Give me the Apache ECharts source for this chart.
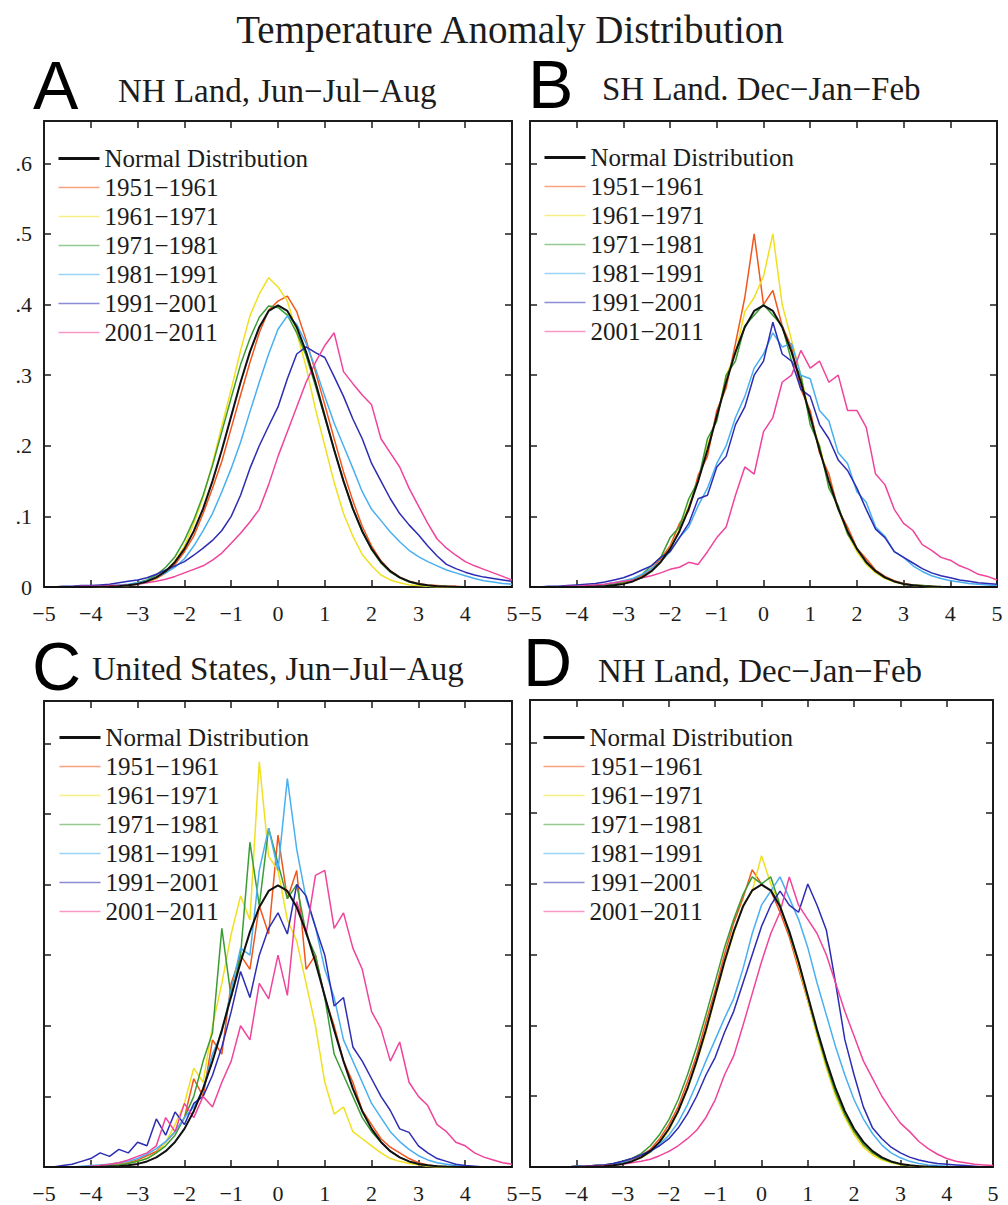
<!DOCTYPE html>
<html><head><meta charset="utf-8">
<script src="https://cdn.jsdelivr.net/npm/echarts@6/dist/echarts.min.js"></script>
<style>html,body{margin:0;padding:0;background:#fff}#c{width:1008px;height:1205px}</style>
</head><body><div id="c"></div>
<script>
// x positions (temperature anomaly, in standard deviations)
const xs = [-5,-4.8,-4.6,-4.4,-4.2,-4,-3.8,-3.6,-3.4,-3.2,-3,-2.8,-2.6,-2.4,-2.2,-2,-1.8,-1.6,-1.4,-1.2,-1,-0.8,-0.6,-0.4,-0.2,0,0.2,0.4,0.6,0.8,1,1.2,1.4,1.6,1.8,2,2.2,2.4,2.6,2.8,3,3.2,3.4,3.6,3.8,4,4.2,4.4,4.6,4.8,5];

const normalCurve = [0,0,0,0,0.0001,0.0001,0.0003,0.0006,0.0012,0.0024,
 0.0044,0.0079,0.0136,0.0224,0.0355,0.054,0.079,0.111,0.150,0.194,
 0.242,0.290,0.333,0.368,0.391,0.399,0.391,0.368,0.333,0.290,
 0.242,0.194,0.150,0.111,0.079,0.054,0.0355,0.0224,0.0136,0.0079,
 0.0044,0.0024,0.0012,0.0006,0.0003,0.0001,0.0001,0,0,0,0];

// Panel A: NH Land, Jun-Jul-Aug
const A_1951 = [0,0,0,0,0,0.001,0.001,0.001,0.002,0.003,
 0.005,0.007,0.012,0.02,0.032,0.05,0.072,0.104,0.14,0.178,
 0.225,0.272,0.318,0.36,0.392,0.405,0.412,0.39,0.35,0.305,
 0.258,0.21,0.163,0.122,0.086,0.058,0.037,0.023,0.014,0.008,
 0.005,0.003,0.002,0.001,0.001,0,0,0,0,0,0];
const A_1961 = [0,0,0,0,0,0,0,0.001,0.001,0.002,
 0.004,0.007,0.013,0.022,0.037,0.058,0.09,0.127,0.175,0.228,
 0.28,0.335,0.384,0.415,0.438,0.425,0.405,0.36,0.312,0.252,
 0.2,0.148,0.104,0.072,0.046,0.03,0.017,0.01,0.006,0.003,
 0.002,0.001,0,0,0,0,0,0,0,0,0];
const A_1971 = [0,0,0,0,0,0.001,0.001,0.001,0.002,0.003,
 0.006,0.01,0.017,0.028,0.043,0.066,0.095,0.13,0.172,0.22,
 0.268,0.315,0.352,0.382,0.398,0.396,0.385,0.36,0.328,0.285,
 0.24,0.195,0.15,0.11,0.078,0.053,0.034,0.021,0.013,0.007,
 0.004,0.002,0.001,0.001,0,0,0,0,0,0,0];
const A_1981 = [0,0,0,0,0,0.001,0.001,0.002,0.003,0.004,
 0.006,0.009,0.014,0.02,0.028,0.04,0.058,0.08,0.104,0.135,
 0.168,0.205,0.248,0.29,0.33,0.365,0.384,0.372,0.345,0.31,
 0.27,0.232,0.2,0.168,0.135,0.11,0.094,0.078,0.064,0.052,
 0.043,0.036,0.03,0.024,0.02,0.016,0.012,0.009,0.007,0.005,0.004];
const A_1991 = [0,0,0.001,0.001,0.002,0.002,0.003,0.004,0.006,0.008,
 0.01,0.013,0.018,0.024,0.03,0.036,0.045,0.055,0.066,0.08,
 0.1,0.13,0.168,0.2,0.228,0.255,0.295,0.33,0.34,0.332,
 0.325,0.298,0.27,0.238,0.21,0.175,0.15,0.125,0.104,0.088,
 0.074,0.058,0.044,0.032,0.026,0.021,0.017,0.014,0.012,0.01,0.008];
const A_2001 = [0,0,0,0,0.001,0.001,0.001,0.002,0.002,0.003,
 0.004,0.006,0.008,0.011,0.015,0.02,0.025,0.03,0.038,0.048,
 0.062,0.076,0.092,0.11,0.145,0.185,0.22,0.255,0.29,0.318,
 0.342,0.36,0.305,0.288,0.272,0.258,0.21,0.19,0.17,0.14,
 0.115,0.09,0.068,0.055,0.045,0.036,0.03,0.025,0.02,0.015,0.01];

// Panel B: SH Land, Dec-Jan-Feb
const B_1951 = [0,0,0,0,0,0.001,0.001,0.002,0.003,0.004,
 0.006,0.01,0.016,0.026,0.04,0.058,0.09,0.108,0.158,0.185,
 0.25,0.282,0.345,0.41,0.5,0.4,0.42,0.37,0.34,0.28,
 0.25,0.19,0.16,0.11,0.085,0.055,0.04,0.024,0.015,0.009,
 0.005,0.003,0.002,0.001,0,0,0,0,0,0,0];
const B_1961 = [0,0,0,0,0,0,0.001,0.001,0.002,0.003,
 0.005,0.008,0.014,0.022,0.036,0.055,0.082,0.115,0.15,0.2,
 0.24,0.3,0.33,0.39,0.41,0.44,0.5,0.4,0.35,0.3,
 0.24,0.2,0.148,0.11,0.075,0.05,0.032,0.02,0.012,0.007,
 0.004,0.002,0.001,0,0,0,0,0,0,0,0];
const B_1971 = [0,0,0,0,0,0.001,0.001,0.002,0.003,0.004,
 0.007,0.011,0.018,0.03,0.042,0.07,0.085,0.125,0.15,0.21,
 0.235,0.3,0.32,0.37,0.385,0.4,0.385,0.37,0.32,0.3,
 0.23,0.2,0.14,0.115,0.075,0.055,0.034,0.022,0.013,0.008,
 0.004,0.003,0.002,0.001,0,0,0,0,0,0,0];
const B_1981 = [0,0,0,0,0.001,0.001,0.002,0.003,0.004,0.006,
 0.009,0.012,0.018,0.026,0.036,0.05,0.07,0.085,0.115,0.14,
 0.175,0.2,0.24,0.27,0.31,0.33,0.36,0.34,0.345,0.3,
 0.295,0.25,0.235,0.19,0.175,0.135,0.12,0.085,0.072,0.05,
 0.042,0.03,0.022,0.016,0.012,0.009,0.007,0.005,0.004,0.003,0.002];
const B_1991 = [0,0,0.001,0.001,0.002,0.003,0.004,0.005,0.007,0.01,
 0.013,0.018,0.024,0.03,0.042,0.05,0.07,0.09,0.125,0.13,
 0.17,0.185,0.23,0.255,0.3,0.32,0.375,0.33,0.32,0.28,
 0.27,0.23,0.21,0.18,0.165,0.14,0.11,0.082,0.07,0.05,
 0.042,0.034,0.026,0.02,0.016,0.013,0.01,0.008,0.006,0.005,0.004];
const B_2001 = [0,0,0,0,0.001,0.001,0.002,0.003,0.004,0.006,
 0.008,0.01,0.013,0.016,0.02,0.025,0.028,0.035,0.032,0.05,
 0.07,0.085,0.13,0.17,0.16,0.22,0.24,0.29,0.3,0.335,
 0.31,0.32,0.29,0.3,0.25,0.25,0.226,0.16,0.145,0.11,
 0.09,0.08,0.06,0.052,0.042,0.038,0.03,0.025,0.018,0.015,0.01];

// Panel C: United States, Jun-Jul-Aug
const C_1951 = [0,0,0,0,0,0,0.002,0.003,0.004,0.006,
 0.01,0.016,0.022,0.035,0.05,0.07,0.125,0.1,0.18,0.16,
 0.26,0.3,0.28,0.37,0.33,0.47,0.38,0.42,0.28,0.3,
 0.24,0.2,0.15,0.12,0.08,0.06,0.04,0.028,0.02,0.012,
 0.006,0.003,0.001,0,0,0,0,0,0,0,0];
const C_1961 = [0,0,0,0,0,0,0.001,0.002,0.003,0.005,
 0.008,0.012,0.02,0.035,0.06,0.09,0.14,0.12,0.2,0.26,
 0.33,0.384,0.35,0.574,0.44,0.42,0.35,0.32,0.26,0.2,
 0.12,0.075,0.085,0.05,0.04,0.03,0.02,0.012,0.008,0.005,
 0.003,0.001,0,0,0,0,0,0,0,0,0];
const C_1971 = [0,0,0,0,0,0.001,0.001,0.002,0.003,0.005,
 0.008,0.012,0.02,0.03,0.045,0.07,0.1,0.15,0.19,0.338,
 0.24,0.3,0.46,0.37,0.48,0.43,0.38,0.4,0.33,0.3,
 0.24,0.16,0.13,0.1,0.07,0.05,0.035,0.022,0.014,0.008,
 0.004,0.002,0.001,0,0,0,0,0,0,0,0];
const C_1981 = [0,0,0,0,0.001,0.002,0.003,0.004,0.006,0.008,
 0.012,0.018,0.026,0.036,0.05,0.07,0.085,0.11,0.16,0.19,
 0.25,0.31,0.3,0.42,0.48,0.42,0.55,0.45,0.38,0.34,
 0.28,0.24,0.18,0.15,0.12,0.09,0.07,0.05,0.036,0.025,
 0.016,0.01,0.006,0.004,0.002,0.001,0,0,0,0,0];
const C_1991 = [0,0,0.002,0.004,0.008,0.012,0.02,0.015,0.025,0.02,
 0.035,0.03,0.068,0.045,0.078,0.06,0.09,0.1,0.13,0.17,
 0.22,0.277,0.24,0.3,0.338,0.36,0.33,0.4,0.384,0.34,
 0.3,0.228,0.24,0.17,0.15,0.125,0.1,0.08,0.054,0.049,
 0.03,0.02,0.012,0.008,0.004,0.002,0.001,0,0,0,0];
const C_2001 = [0,0,0,0,0,0.001,0.002,0.004,0.006,0.01,
 0.015,0.02,0.03,0.07,0.05,0.09,0.07,0.1,0.085,0.12,
 0.15,0.2,0.18,0.26,0.238,0.3,0.243,0.376,0.33,0.413,
 0.42,0.338,0.36,0.31,0.28,0.22,0.196,0.15,0.177,0.12,
 0.1,0.087,0.06,0.05,0.035,0.03,0.02,0.014,0.01,0.006,0.004];

// Panel D: NH Land, Dec-Jan-Feb
const D_1951 = [0,0,0,0,0,0.001,0.001,0.002,0.003,0.004,
 0.007,0.01,0.016,0.025,0.04,0.06,0.085,0.12,0.158,0.205,
 0.25,0.3,0.345,0.38,0.42,0.4,0.39,0.36,0.325,0.28,
 0.235,0.188,0.145,0.105,0.075,0.05,0.032,0.02,0.012,0.007,
 0.004,0.002,0.001,0,0,0,0,0,0,0,0];
const D_1961 = [0,0,0,0,0,0,0.001,0.001,0.002,0.003,
 0.005,0.008,0.013,0.021,0.034,0.052,0.078,0.11,0.148,0.19,
 0.24,0.288,0.33,0.37,0.39,0.44,0.4,0.37,0.33,0.285,
 0.236,0.185,0.14,0.1,0.07,0.046,0.028,0.017,0.01,0.006,
 0.003,0.002,0.001,0,0,0,0,0,0,0,0];
const D_1971 = [0,0,0,0,0,0.001,0.001,0.002,0.003,0.005,
 0.008,0.012,0.019,0.03,0.046,0.067,0.095,0.13,0.17,0.215,
 0.262,0.31,0.35,0.385,0.41,0.4,0.41,0.37,0.33,0.29,
 0.24,0.19,0.145,0.105,0.074,0.05,0.032,0.02,0.012,0.007,
 0.004,0.002,0.001,0,0,0,0,0,0,0,0];
const D_1981 = [0,0,0,0,0,0.001,0.001,0.002,0.003,0.004,
 0.006,0.009,0.014,0.021,0.032,0.045,0.063,0.088,0.118,0.15,
 0.18,0.21,0.238,0.28,0.33,0.37,0.39,0.41,0.38,0.35,
 0.31,0.26,0.215,0.17,0.13,0.095,0.068,0.047,0.031,0.02,
 0.013,0.008,0.005,0.003,0.002,0.001,0,0,0,0,0];
const D_1991 = [0,0,0,0,0,0.001,0.001,0.002,0.003,0.005,
 0.008,0.012,0.017,0.023,0.03,0.04,0.055,0.075,0.1,0.13,
 0.155,0.19,0.22,0.26,0.3,0.34,0.37,0.39,0.37,0.36,
 0.4,0.37,0.335,0.26,0.18,0.13,0.085,0.055,0.04,0.028,
 0.02,0.014,0.01,0.007,0.005,0.004,0.003,0.002,0.001,0,0];
const D_2001 = [0,0,0,0,0,0,0.001,0.001,0.002,0.003,
 0.004,0.006,0.008,0.011,0.016,0.022,0.03,0.04,0.052,0.07,
 0.095,0.13,0.157,0.2,0.245,0.29,0.33,0.36,0.41,0.37,
 0.35,0.33,0.3,0.26,0.22,0.185,0.15,0.125,0.1,0.08,
 0.062,0.05,0.036,0.026,0.018,0.012,0.008,0.006,0.004,0.003,0.002];

const decadeNames = ['1951\u22121961','1961\u22121971','1971\u22121981','1981\u22121991','1991\u22122001','2001\u22122011'];
const decadeColors = ['#f2561c','#f0e020','#3c9c34','#48b0f0','#2c2cb4','#f0449c'];
const normalName = 'Normal Distribution';

const panels = [
  {letter:'A', sub:'NH Land, Jun\u2212Jul\u2212Aug', series:[A_1951,A_1961,A_1971,A_1981,A_1991,A_2001]},
  {letter:'B', sub:'SH Land. Dec\u2212Jan\u2212Feb', series:[B_1951,B_1961,B_1971,B_1981,B_1991,B_2001]},
  {letter:'C', sub:'United States, Jun\u2212Jul\u2212Aug', series:[C_1951,C_1961,C_1971,C_1981,C_1991,C_2001]},
  {letter:'D', sub:'NH Land, Dec\u2212Jan\u2212Feb', series:[D_1951,D_1961,D_1971,D_1981,D_1991,D_2001]}
];

// layout
const grids = [
  {left:44, top:121, width:468, height:466},
  {left:530, top:121, width:467, height:466},
  {left:44, top:701, width:468, height:466},
  {left:530, top:700, width:463, height:467}
];
const legendPos = [{left:57, top:146},{left:543, top:145},{left:58, top:725},{left:542, top:725}];
const letterPos = [{x:33, y:85},{x:528, y:84},{x:32, y:666},{x:523, y:662}];
const subPos = [{x:118, y:91},{x:602, y:89},{x:92, y:669},{x:598, y:671}];

const SERIF = '"Liberation Serif", "Times New Roman", serif';
const INK = '#1c1c1c';

function xAx(gi, pos, labels) {
  return {type:'value', gridIndex:gi, position:pos, min:-5, max:5, interval:1,
    axisLine:{show:true, onZero:false, lineStyle:{color:INK, width:2}},
    axisTick:{show:true, inside:true, length:7, lineStyle:{color:INK, width:1.5}},
    axisLabel:{show:labels, margin:15, fontFamily:SERIF, fontSize:22, color:INK,
      formatter: v => String(v).replace('-', '\u2212')},
    splitLine:{show:false}};
}
function yAx(gi, pos, labels) {
  return {type:'value', gridIndex:gi, position:pos, min:0, max:0.66, interval:0.1,
    axisLine:{show:true, onZero:false, lineStyle:{color:INK, width:2}},
    axisTick:{show:true, inside:true, length:7, lineStyle:{color:INK, width:1.5}},
    axisLabel:{show:labels, margin:12, fontFamily:SERIF, fontSize:22, color:INK,
      formatter: v => { const k = Math.round(v*10); if (Math.abs(v*10-k) > 1e-6) return ''; return k === 0 ? '0' : '.' + k; }},
    splitLine:{show:false}};
}

const hiddenSymbol = {color:'rgba(0,0,0,0)', borderWidth:0, opacity:0};
const xAxis = [], yAxis = [], series = [], legend = [], graphic = [];
panels.forEach((p, gi) => {
  xAxis.push(xAx(gi, 'bottom', true), xAx(gi, 'top', false));
  yAxis.push(yAx(gi, 'left', gi === 0), yAx(gi, 'right', false));
  series.push({type:'line', name:normalName, xAxisIndex:2*gi, yAxisIndex:2*gi,
    data: xs.map((x, i) => [x, normalCurve[i]]), symbol:'none', z:5,
    lineStyle:{color:'#111', width:2}, itemStyle:{color:'#111'}});
  p.series.forEach((vals, k) => {
    series.push({type:'line', name:decadeNames[k], xAxisIndex:2*gi, yAxisIndex:2*gi,
      data: xs.map((x, i) => [x, vals[i]]), symbol:'none', z:3,
      lineStyle:{color:decadeColors[k], width:1.5}, itemStyle:{color:decadeColors[k]}});
  });
  legend.push({orient:'vertical', left:legendPos[gi].left, top:legendPos[gi].top, padding:0,
    itemWidth:41, itemHeight:14, itemGap:4, selectedMode:false,
    itemStyle: hiddenSymbol,
    textStyle:{fontFamily:SERIF, fontSize:25, lineHeight:25, color:INK},
    data:[{name:normalName, itemStyle:hiddenSymbol, lineStyle:{width:3, color:'#111'}}].concat(
      decadeNames.map((n, k) => ({name:n, itemStyle:hiddenSymbol, lineStyle:{width:1.6, color:decadeColors[k], opacity:0.55}})))});
  graphic.push({type:'text', x:letterPos[gi].x, y:letterPos[gi].y,
    style:{text:p.letter, font:'68px "Liberation Sans", Arial, sans-serif', fill:'#000', textAlign:'left', textVerticalAlign:'middle', verticalAlign:'middle'}});
  graphic.push({type:'text', x:subPos[gi].x, y:subPos[gi].y,
    style:{text:p.sub, font:'33px ' + SERIF, fill:INK, textAlign:'left', textVerticalAlign:'middle', verticalAlign:'middle'}});
});
graphic.push({type:'text', x:510, y:29,
  style:{text:'Temperature Anomaly Distribution', font:'39px ' + SERIF, fill:INK, textAlign:'center', textVerticalAlign:'middle', verticalAlign:'middle'}});

const chart = echarts.init(document.getElementById('c'), null, {renderer:'svg'});
chart.setOption({
  animation:false,
  backgroundColor:'#fff',
  grid: grids.map(g => Object.assign({containLabel:false, outerBoundsMode:'none'}, g)),
  xAxis, yAxis, series, legend, graphic,
  tooltip:{show:false}
});
</script></body></html>
